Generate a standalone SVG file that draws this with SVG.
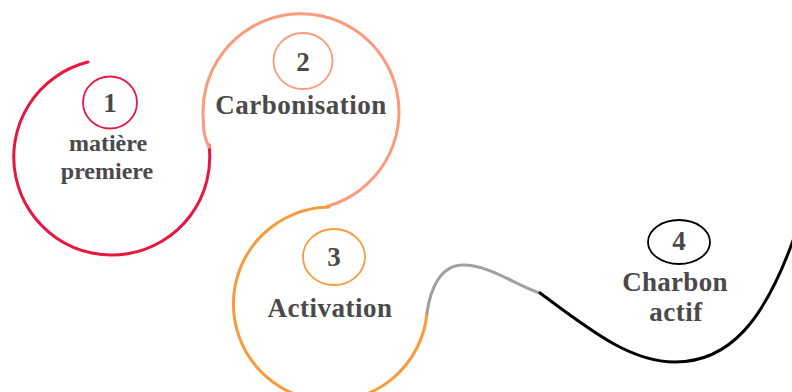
<svg xmlns="http://www.w3.org/2000/svg" width="792" height="392" viewBox="0 0 792 392">
<style>
.arc{fill:none;stroke-width:3;stroke-linecap:round}
.ring{fill:none;stroke-width:1.8}
.t{font-family:"Liberation Serif","Times New Roman",serif;font-weight:bold;fill:#4a4a4a;text-anchor:middle}
.num{font-size:27px}
.lbl{font-size:27px;letter-spacing:0.5px}
.sm{font-size:24px}
</style>
<rect width="792" height="392" fill="#ffffff"/>
<g id="node1">
<path class="arc" stroke="#E8173F" d="M 88 62 A 98 98 0 1 0 209 145"/>
<ellipse class="ring" stroke="#E8173F" cx="110" cy="102.5" rx="27" ry="26"/>
<text class="t num" x="110" y="112">1</text>
<text class="t sm" x="108" y="151">matière</text>
<text class="t sm" x="107" y="179">premiere</text>
</g>
<g id="node2">
<path class="arc" stroke="#FB9B7C" d="M 209 147 Q 203 135 203.5 122 A 98 98 0 1 1 328 206"/>
<ellipse class="ring" stroke="#FB9B7C" cx="303" cy="61" rx="29.5" ry="28"/>
<text class="t num" x="303" y="71">2</text>
<text class="t lbl" x="301" y="114">Carbonisation</text>
</g>
<g id="node3">
<path class="arc" stroke="#F99A3B" d="M 329 207 A 97 97 0 1 0 427 313"/>
<ellipse class="ring" stroke="#F99A3B" cx="334" cy="257" rx="31" ry="28"/>
<text class="t num" x="334" y="266">3</text>
<text class="t lbl" x="330" y="317">Activation</text>
</g>
<g id="connectors">
<path class="arc" stroke="#A0A0A0" d="M 427 313 C 430 290, 440 265, 463 265 C 490 265, 515 285, 540 293"/>
</g>
<g id="node4">
<path class="arc" stroke="#000000" stroke-width="3.3" d="M 540 293 C 590 330, 630 362, 675 362 C 730 362, 765 320, 795 235"/>
<ellipse class="ring" stroke="#000000" cx="679" cy="242" rx="31" ry="22"/>
<text class="t num" x="679" y="250">4</text>
<text class="t lbl" x="675" y="291" style="letter-spacing:0.3px">Charbon</text>
<text class="t lbl" x="676" y="321">actif</text>
</g>
</svg>
